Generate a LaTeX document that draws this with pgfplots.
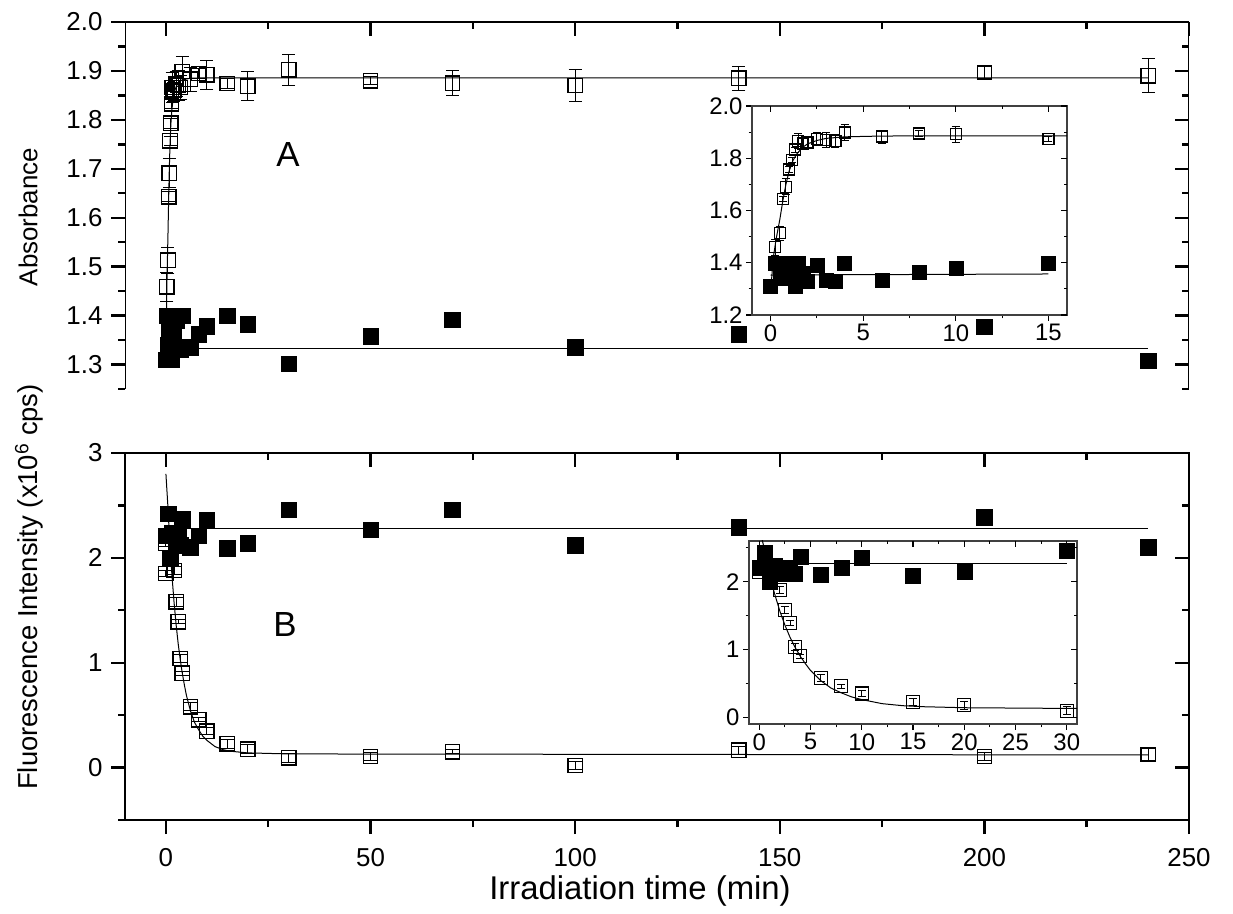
\documentclass[border=0pt]{standalone}
\usepackage{fontspec}
\setmainfont{Liberation Sans}
\usepackage{pgfplots}
\usepackage{pgfplotstable}
\pgfplotsset{compat=1.18}
\pgfplotsset{/pgf/number format/assume math mode=true}

% Panel A: absorbance, open squares (with error), filled squares
\pgfplotstableread{
t y e
0.25 1.459 0.030
0.5 1.513 0.027
0.67 1.643 0.010
0.83 1.691 0.030
1.0 1.757 0.010
1.17 1.793 0.010
1.33 1.833 0.010
1.5 1.866 0.030
1.75 1.857 0.020
2.0 1.860 0.020
2.5 1.873 0.025
3.0 1.870 0.030
3.5 1.866 0.025
4.0 1.899 0.030
6.0 1.883 0.025
8.0 1.895 0.010
10.0 1.892 0.030
15.0 1.874 0.010
20 1.869 0.030
30 1.902 0.032
50 1.880 0.008
70 1.875 0.025
100 1.870 0.033
140 1.885 0.025
200 1.897 0.012
240 1.890 0.035
}\Aopen
\pgfplotstableread{
t y
0 1.31
0.25 1.40
0.5 1.34
0.67 1.37
0.83 1.40
1.0 1.35
1.17 1.37
1.33 1.31
1.5 1.40
1.75 1.36
2.0 1.33
2.5 1.39
3.0 1.335
3.5 1.33
4.0 1.40
6.0 1.335
8.0 1.362
10.0 1.378
15.0 1.40
20 1.383
30 1.302
50 1.358
70 1.392
100 1.335
140 1.362
200 1.377
240 1.308
}\Afill
\pgfplotstableread{
t y
0.05 1.33
0.15 1.42
0.3 1.49
0.5 1.565
0.67 1.64
0.83 1.70
1.0 1.75
1.2 1.79
1.4 1.815
1.7 1.84
2.0 1.855
2.5 1.868
3.0 1.876
4.0 1.882
6.0 1.885
10 1.886
240 1.886
}\Afitopen

% Panel B: fluorescence
\pgfplotstableread{
t y e
0 2.14 0.03
0 1.85 0.03
2 1.88 0.04
2.5 1.58 0.04
3 1.39 0.02
3.5 1.04 0.04
4 0.90 0.02
6 0.58 0.04
8 0.456 0.02
10 0.348 0.03
15 0.226 0.04
20 0.176 0.04
30 0.093 0.04
50 0.105 0.04
70 0.15 0.02
100 0.02 0.04
140 0.165 0.04
200 0.105 0.04
240 0.125 0.06
}\Bopen
\pgfplotstableread{
t y e
0 2.14 0.05
2 1.88 0.05
2.5 1.58 0.05
3 1.39 0.03
3.5 1.04 0.05
4 0.90 0.03
6 0.58 0.05
8 0.456 0.03
10 0.348 0.04
15 0.226 0.05
20 0.176 0.06
30 0.093 0.06
}\Bopeninset
\pgfplotstableread{
t y
0 2.21
0.5 2.42
1.0 2.00
1.5 2.235
2.0 2.21
2.5 2.12
3.0 2.20
3.5 2.12
4.0 2.37
6 2.10
8 2.21
10 2.36
15 2.09
20 2.14
30 2.46
50 2.27
70 2.46
100 2.12
140 2.29
200 2.39
240 2.10
}\Bfill
\pgfplotstableread{
t y
0 2.80
0.5 2.48
1.0 2.10
1.5 1.82
2.0 1.57
2.5 1.36
3.0 1.18
3.5 1.03
4.0 0.90
4.5 0.79
5.0 0.69
6.0 0.54
7.0 0.43
8.0 0.36
9.0 0.30
10 0.26
12 0.20
14 0.17
16 0.155
20 0.14
25 0.135
30 0.13
240 0.12
}\Bfitopen

\pgfplotsset{
  mainax/.style={scale only axis, width=1064bp, height=367bp, xmin=-10, xmax=250,
    major tick length=14bp, minor tick length=7bp,
    tick style={line width=2.4bp, black},
    tick label style={font=\fontsize{26}{26}\selectfont},
    yticklabel style={xshift=-5bp},
    xticklabel style={yshift=-11bp}},
  insetax/.style={scale only axis,
    major tick length=6bp, minor tick length=3.5bp,
    tick style={line width=1.1bp, black},
    tick label style={font=\fontsize{24}{24}\selectfont}},
  openmk/.style 2 args={only marks, mark=square, mark size=#1, mark options={line width=1.3bp, black},
    error bars/.cd, y dir=both, y explicit,
    error bar style={line width=1bp, black},
    error mark options={rotate=90, mark size=#2, line width=1bp, black}},
  fillmk/.style={only marks, mark=square*, mark size=#1, mark options={black, fill=black}},
  fitln/.style={no marks, line width=1bp, black},
}

\begin{document}
\begin{tikzpicture}
\path[use as bounding box] (0bp,0bp) rectangle (1233bp,914bp);

% ---------------- Panel A ----------------
\begin{axis}[mainax, at={(125bp,525bp)}, anchor=south west,
  ymin=1.25, ymax=2.0,
  axis line style={draw=none},
  xtick=\empty,
  ytick={1.3,1.4,1.5,1.6,1.7,1.8,1.9,2.0},
  minor ytick={1.25,1.35,1.45,1.55,1.65,1.75,1.85,1.95},
  ytick pos=left, tick align=outside,
  yticklabel style={/pgf/number format/.cd, fixed, fixed zerofill, precision=1}]
\addplot[fitln] table[x=t,y=y] {\Afitopen};
\addplot[fitln] coordinates {(0,1.333) (240,1.333)};
\addplot[openmk={7.2bp}{6.5bp}] table[x=t,y=y,y error=e] {\Aopen};
\addplot[fillmk=7.8bp] table[x=t,y=y] {\Afill};
\draw[line width=2.5bp, line join=miter] (rel axis cs:0,0) -- (rel axis cs:0,1) -- (rel axis cs:1,1) -- (rel axis cs:1,0);
\end{axis}
\begin{axis}[mainax, at={(125bp,525bp)}, anchor=south west,
  ymin=1.25, ymax=2.0, axis line style={draw=none},
  xtick={0,50,100,150,200,250}, minor xtick={25,75,125,175,225},
  ytick={1.3,1.4,1.5,1.6,1.7,1.8,1.9,2.0},
  minor ytick={1.25,1.35,1.45,1.55,1.65,1.75,1.85,1.95},
  xtick pos=right, ytick pos=right, tick align=inside,
  xticklabels={}, yticklabels={}]
\end{axis}

% ---------------- Panel B ----------------
\begin{axis}[mainax, at={(125bp,94bp)}, anchor=south west,
  ymin=-0.5, ymax=3,
  axis line style={line width=2.5bp},
  xtick={0,50,100,150,200,250}, minor xtick={25,75,125,175,225},
  ytick={0,1,2,3}, minor ytick={-0.5,0.5,1.5,2.5},
  xtick pos=left, ytick pos=left, tick align=outside]
\addplot[fitln] table[x=t,y=y] {\Bfitopen};
\addplot[fitln] coordinates {(1,2.276) (240,2.276)};
\addplot[openmk={7.2bp}{6.5bp}] table[x=t,y=y,y error=e] {\Bopen};
\addplot[fillmk=7.8bp] table[x=t,y=y] {\Bfill};
\end{axis}
\begin{axis}[mainax, at={(125bp,94bp)}, anchor=south west,
  ymin=-0.5, ymax=3, axis line style={draw=none},
  xtick={0,50,100,150,200,250}, minor xtick={25,75,125,175,225},
  ytick={0,1,2,3}, minor ytick={-0.5,0.5,1.5,2.5},
  xtick pos=right, ytick pos=right, tick align=inside,
  xticklabels={}, yticklabels={}]
\end{axis}

% ---------------- Inset A ----------------
\begin{axis}[insetax, at={(752bp,599bp)}, anchor=south west, width=315bp, height=209bp,
  xmin=-1, xmax=16, ymin=1.2, ymax=2.0,
  axis line style={line width=1.3bp, black!75},
  xtick={0,5,10,15}, minor xtick={2.5,7.5,12.5},
  ytick={1.2,1.4,1.6,1.8,2.0}, minor ytick={1.3,1.5,1.7,1.9},
  xtick pos=left, ytick pos=left, tick align=outside,
  yticklabel style={/pgf/number format/.cd, fixed, fixed zerofill, precision=1}]
\addplot[fitln] table[x=t,y=y] {\Afitopen};
\addplot[fitln] coordinates {(0,1.353) (15,1.357)};
\addplot[openmk={5.5bp}{4bp}] table[x=t,y=y,y error=e] {\Aopen};
\addplot[fillmk=7bp] table[x=t,y=y] {\Afill};
\end{axis}
\begin{axis}[insetax, at={(752bp,599bp)}, anchor=south west, width=315bp, height=209bp,
  xmin=-1, xmax=16, ymin=1.2, ymax=2.0, axis line style={draw=none},
  xtick={0,5,10,15}, minor xtick={2.5,7.5,12.5},
  ytick={1.2,1.4,1.6,1.8,2.0}, minor ytick={1.3,1.5,1.7,1.9},
  xtick pos=right, ytick pos=right, tick align=inside,
  xticklabels={}, yticklabels={}]
\end{axis}

% ---------------- Inset B ----------------
\begin{axis}[insetax, at={(749bp,190bp)}, anchor=south west, width=328bp, height=183bp,
  xmin=-1, xmax=31, ymin=-0.1, ymax=2.6,
  axis line style={line width=1.3bp, black!75},
  xtick={0,5,10,15,20,25,30}, minor xtick={2.5,7.5,12.5,17.5,22.5,27.5},
  ytick={0,1,2}, minor ytick={0.5,1.5,2.5},
  xtick pos=left, ytick pos=left, tick align=outside]
\addplot[fitln] table[x=t,y=y] {\Bfitopen};
\addplot[fitln] coordinates {(0.8,2.275) (30,2.275)};
\addplot[openmk={6.5bp}{4bp}] table[x=t,y=y,y error=e] {\Bopeninset};
\addplot[fillmk=7.5bp] table[x=t,y=y] {\Bfill};
\end{axis}
\begin{axis}[insetax, at={(749bp,190bp)}, anchor=south west, width=328bp, height=183bp,
  xmin=-1, xmax=31, ymin=-0.1, ymax=2.6, axis line style={draw=none},
  xtick={0,5,10,15,20,25,30}, minor xtick={2.5,7.5,12.5,17.5,22.5,27.5},
  ytick={0,1,2}, minor ytick={0.5,1.5,2.5},
  xtick pos=right, ytick pos=right, tick align=inside,
  xticklabels={}, yticklabels={}]
\end{axis}

% ---------------- Labels ----------------
\node[font=\fontsize{35}{35}\selectfont] at (288bp,759bp) {A};
\node[font=\fontsize{35}{35}\selectfont] at (285bp,289bp) {B};
\node[font=\fontsize{26}{26}\selectfont, rotate=90] at (28bp,697bp) {Absorbance};
\node[font=\fontsize{27.5}{27.5}\selectfont, rotate=90] at (29bp,327bp) {Fluorescence Intensity (x10\textsuperscript{6} cps)};
\node[font=\fontsize{33}{33}\selectfont, anchor=base] at (640bp,15bp) {Irradiation time (min)};
\end{tikzpicture}
\end{document}
